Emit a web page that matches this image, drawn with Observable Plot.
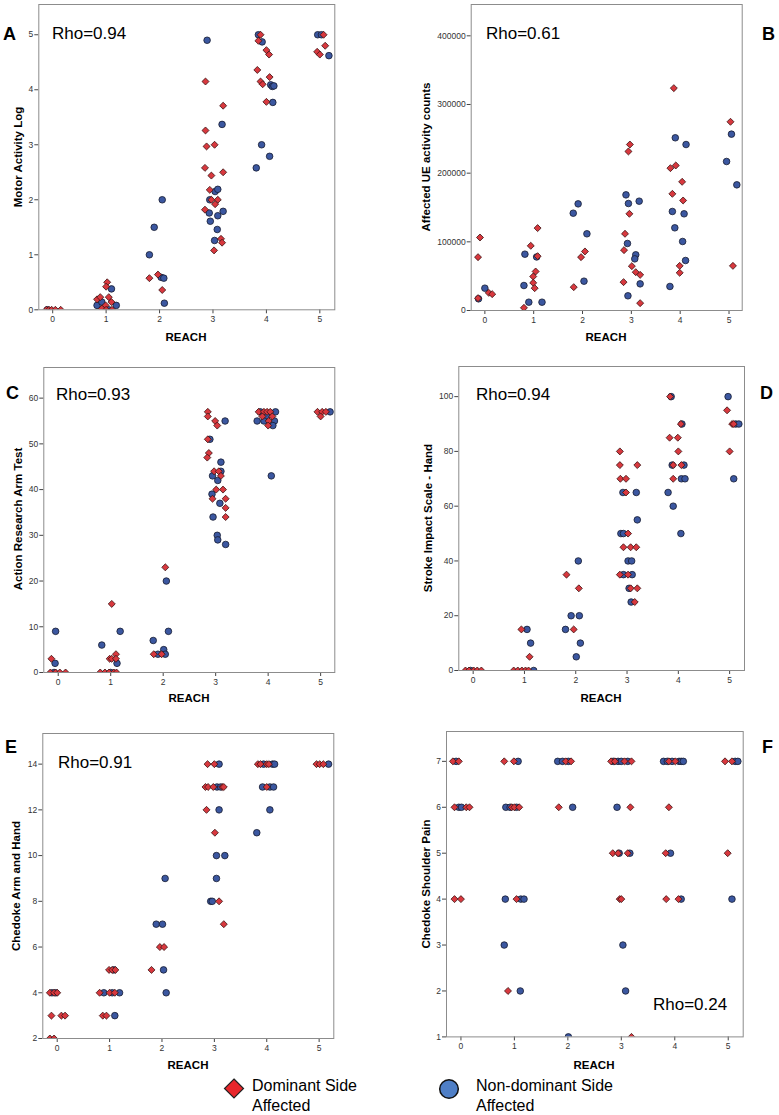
<!DOCTYPE html>
<html><head><meta charset="utf-8">
<script src="https://cdn.jsdelivr.net/npm/d3@7"></script>
<script src="https://cdn.jsdelivr.net/npm/@observablehq/plot@0.6"></script>
<style>
html,body{margin:0;padding:0;background:#fff;}
#page{position:relative;width:779px;height:1115px;overflow:hidden;font-family:"Liberation Sans",Arial,sans-serif;color:#000;}
.cell{position:absolute;}
.lbl{position:absolute;white-space:nowrap;}
.ylab{position:absolute;font-weight:bold;font-size:11.5px;white-space:nowrap;transform:translate(-50%,-50%) rotate(-90deg);}
.xlab{position:absolute;font-weight:bold;font-size:11.5px;transform:translate(-50%,-50%);}
.rho{position:absolute;font-size:17px;transform:translateY(-50%);}
.letter{position:absolute;font-weight:bold;font-size:18px;transform:translateY(-50%);}
.leg{position:absolute;font-size:16px;line-height:20px;}
</style></head>
<body><div id="page"></div>
<script>
// ---------- data: [REACH (jittered), score] ----------
const reachTicks = [0, 1, 2, 3, 4, 5];
const legendLabels = ["Dominant Side Affected", "Non-dominant Side Affected"];

const A_dominant = [[-0.12,0],[-0.07,0],[-0.02,0],[0.05,0],[0.15,0],
 [0.83,0.19],[0.89,0.23],[1.02,0.50],[1.0,0.42],[1.05,0.23],[1.1,0.14],[0.99,0.08],[0.92,0.02],[1.0,0],[1.11,0],
 [1.81,0.575],[1.97,0.64],[2.05,0.36],
 [2.86,4.15],[3.19,3.71],[2.86,3.26],[2.88,2.97],[3.03,3.0],[2.85,2.58],[2.97,2.44],[3.19,2.5],[2.97,2.0],[2.94,2.18],[3.09,2.0],[3.04,1.92],[2.85,1.82],[3.15,1.29],[3.17,1.22],[3.02,1.08],
 [3.89,5.0],[3.85,4.89],[4.0,4.72],[4.05,4.64],[3.83,4.36],[3.89,4.15],[3.93,4.10],[4.06,4.23],[4.0,3.78],
 [5.07,5.0],[5.10,4.80],[4.95,4.69],[5.0,4.64]];
const A_nondominant = [[-0.1,0],
 [0.83,0.08],[0.92,0.14],[1.1,0.38],[1.19,0.08],[1.05,0],
 [1.81,1.0],[1.90,1.5],[2.05,2.0],[2.03,0.59],[2.08,0.575],[2.09,0.12],
 [2.89,4.90],[3.17,3.37],[2.94,2.0],[3.04,2.15],[3.09,2.19],[2.93,1.76],[3.19,1.79],[3.09,1.71],[2.95,1.61],[3.08,1.46],[3.03,1.26],
 [3.85,5.0],[3.92,4.87],[4.08,4.09],[4.11,4.06],[4.14,4.07],[4.12,3.77],[3.91,3.0],[4.06,2.79],[3.81,2.58],
 [4.96,5.0],[5.03,5.0],[5.17,4.62]];

const B_dominant = [[-0.10,106300],[-0.14,77700],[0.08,25700],[0.15,23800],[-0.14,18000],
 [1.08,120000],[0.94,94200],[1.08,79100],[1.04,56800],[0.99,49500],[0.99,40300],[1.02,32500],[0.80,3900],
 [2.05,86000],[1.97,77700],[1.82,34000],
 [2.97,241700],[2.94,231600],[2.96,140800],[2.87,111700],[2.85,87900],[3.01,64600],[3.09,55800],[3.18,51900],[2.84,41300],[3.18,10700],
 [3.87,323800],[3.91,211200],[3.80,207300],[4.04,187400],[3.84,169900],[4.06,160200],[3.99,65000],[3.99,54900],
 [5.03,274800],[5.08,65000]];
const B_nondominant = [[0.0,32500],[-0.13,17000],
 [0.82,82000],[1.06,78000],[0.80,36400],[0.90,12100],[1.17,12100],
 [1.81,141700],[1.91,155300],[2.09,111700],[2.03,42700],
 [2.89,168400],[2.94,155800],[3.16,159200],[2.92,97600],[3.09,81100],[3.07,75200],[3.18,38800],[2.93,21400],
 [3.90,251500],[4.12,241700],[3.84,144200],[4.08,140800],[3.89,120400],[4.05,100500],[4.11,72800],[3.79,35000],
 [5.05,256800],[4.95,217000],[5.16,183000]];

const C_dominant = [[-0.13,3],[-0.15,0],[-0.05,0],[0.03,0],[0.14,0],
 [1.02,15],[1.1,4],[0.98,3],[1.02,3],[1.1,3],[0.8,0],[0.89,0],[0.97,0],[1.06,0],[1.11,0],
 [2.04,23],[1.82,4],[1.97,4],
 [2.85,57],[2.85,56],[2.99,55],[3.03,54],[2.85,51],[2.87,48],[2.84,47],[2.97,44],[3.06,44],[3.1,43],[3.01,40],[3.14,40],[2.94,38],[3.19,38],[3.19,36],[3.19,34],
 [3.82,57],[3.92,57],[3.98,57],[4.04,57],[3.89,56],[4.08,56],[4.01,55],[4.0,54],
 [4.94,57],[5.03,57],[5.10,57],[5.0,56]];
const C_nondominant = [[-0.05,9],[-0.06,2],[-0.08,0],
 [0.83,6],[1.18,9],[1.12,2],[1.0,0],
 [2.06,20],[1.81,7],[2.1,9],[2.01,5],[1.90,4],[2.04,4],
 [3.18,55],[2.89,51],[3.1,46],[3.1,44],[2.94,43],[3.04,42],[2.93,39],[3.08,37],[2.95,34],[3.03,30],[3.04,29],[3.19,28],
 [3.85,57],[4.14,57],[3.98,56],[3.79,55],[3.92,55],[4.12,55],[4.09,54],[4.06,43],
 [5.18,57]];

const D_dominant = [[-0.15,0],[-0.08,0],[0.01,0],[0.08,0],[0.16,0],
 [0.94,15],[1.1,5],[0.79,0],[0.87,0],[0.95,0],[1.02,0],[1.08,0],
 [1.82,35],[2.06,30],[1.96,15],
 [2.86,80],[2.86,75],[3.2,75],[2.87,70],[2.98,70],[2.98,65],[3.02,50],[2.93,45],[3.07,45],[3.18,45],[2.86,35],[3.02,35],[3.07,30],[3.2,30],[3.15,25],
 [3.84,100],[4.05,90],[3.83,85],[3.99,85],[4.0,80],[3.9,75],[4.06,75],[3.9,70],
 [4.95,95],[5.05,90],[5.08,90],[5.0,80]];
const D_nondominant = [[-0.05,0],
 [1.05,15],[1.12,10],[1.18,0],
 [2.05,40],[1.91,20],[2.07,20],[1.8,15],[2.09,10],[2.01,5],
 [2.92,65],[3.18,65],[3.2,55],[2.88,50],[2.93,50],[3.02,40],[3.09,40],[2.93,35],[3.1,35],[3.04,30],[3.08,25],
 [3.86,100],[4.07,90],[3.88,75],[4.11,75],[4.06,70],[4.13,70],[3.8,65],[3.9,60],[4.05,50],
 [4.97,100],[5.12,90],[5.18,90],[5.08,70]];

const E_dominant = [[-0.14,4],[-0.06,4],[0.0,4],[-0.11,3],[0.08,3],[0.15,3],[-0.14,2],[-0.06,2],
 [0.99,5],[1.05,5],[1.11,5],[0.81,4],[1.0,4],[1.1,4],[0.87,3],[0.94,3],
 [1.96,6],[2.04,6],[1.8,5],
 [2.87,14],[3.0,14],[2.83,13],[2.88,13],[2.98,13],[3.15,13],[3.18,13],[2.85,12],[3.01,11],[3.09,8],[3.18,7],
 [3.83,14],[3.88,14],[4.0,14],[4.04,14],[4.0,13],
 [4.95,14],[5.01,14],[5.08,14]];
const E_nondominant = [[-0.1,4],[-0.03,4],
 [1.08,5],[0.89,4],[1.05,4],[1.19,4],[1.1,3],
 [2.06,9],[1.89,7],[2.01,7],[2.03,5],[2.08,4],
 [3.09,14],[3.05,13],[3.12,13],[3.09,12],[3.04,10],[3.2,10],[3.04,9],[2.93,8],[2.96,8],
 [3.94,14],[4.11,14],[4.15,14],[3.92,13],[4.06,13],[4.13,13],[4.06,12],[3.81,11],
 [5.18,14]];

const F_dominant = [[-0.15,7],[-0.04,7],[-0.12,6],[0.1,6],[0.16,6],[-0.12,4],[0.0,4],
 [0.81,7],[0.99,7],[0.95,6],[1.0,6],[1.09,6],[1.04,4],[0.88,2],
 [1.96,7],[2.06,7],[1.83,6],
 [2.81,7],[2.88,7],[3.06,7],[3.19,7],[3.17,6],[2.84,5],[2.94,5],[3.12,5],[2.97,4],[3.0,4],[3.19,1],
 [3.89,7],[4.01,7],[3.89,6],[3.83,5],[3.84,4],[4.07,4],
 [4.94,7],[5.07,7],[4.99,5]];
const F_nondominant = [[-0.09,7],[-0.04,6],[0.01,6],
 [1.07,7],[0.84,6],[0.92,6],[1.04,6],[0.83,4],[1.12,4],[1.18,4],[0.81,3],[1.11,2],
 [1.81,7],[1.9,7],[2.01,7],[2.09,6],[2.01,1],
 [2.85,7],[2.94,7],[3.0,7],[3.12,7],[2.92,6],[2.96,5],[3.16,5],[3.03,3],[3.08,2],
 [3.79,7],[3.86,7],[3.95,7],[4.08,7],[4.12,7],[4.16,7],[3.92,5],[4.12,4],
 [5.13,7],[5.18,7],[5.07,4]];

const yTicksA = [0,1,2,3,4,5];
const yTicksB = [0,100000,200000,300000,400000];
const yTicksC = [0,10,20,30,40,50,60];
const yTicksD = [0,20,40,60,80,100];
const yTicksE = [2,4,6,8,10,12,14];
const yTicksF = [1,2,3,4,5,6,7];

const yLabels = ["Motor Activity Log","Affected UE activity counts","Action Research Arm Test","Stroke Impact Scale - Hand","Chedoke Arm and Hand","Chedoke Shoulder Pain"];
const rhoLabels = ["Rho=0.94","Rho=0.61","Rho=0.93","Rho=0.94","Rho=0.91","Rho=0.24"];
const panelLetters = ["A","B","C","D","E","F"];

// ---------- layout ----------
const RED = "#d8383e", BLUE = "#3b57a0";
const page = document.getElementById("page");
const panels = [
 {left:0,   frame:[38.3,4,334.3,309.3],    xdom:[-0.26,5.28], ydom:[0,5.55],   ticks:yTicksA, dom:A_dominant, non:A_nondominant,
  ylab:[18,157], rho:[52,34], letter:[3,34], reach:[186,337]},
 {left:390, frame:[470.7,4,741.7,310],     xdom:[-0.28,5.27], ydom:[0,445600], ticks:yTicksB, dom:B_dominant, non:B_nondominant,
  ylab:[426,157], rho:[486,34], letter:[762,34], reach:[606,337]},
 {left:0,   frame:[43.3,366.7,334.3,671.7],xdom:[-0.275,5.27],ydom:[0,66.7],  ticks:yTicksC, dom:C_dominant, non:C_nondominant,
  ylab:[18,519], rho:[56,395], letter:[6,393], reach:[189,698]},
 {left:390, frame:[458.3,366,744,670],     xdom:[-0.28,5.29], ydom:[0,111],   ticks:yTicksD, dom:D_dominant, non:D_nondominant,
  ylab:[428,518], rho:[476,395], letter:[760,393], reach:[601,698]},
 {left:0,   frame:[42.3,733.3,333.3,1038.3],xdom:[-0.275,5.28],ydom:[2,15.34],ticks:yTicksE, dom:E_dominant, non:E_nondominant,
  ylab:[16,886], rho:[58,763], letter:[5,747], reach:[188,1065]},
 {left:390, frame:[446,731.3,742.7,1036.7],xdom:[-0.27,5.28], ydom:[1,7.65],  ticks:yTicksF, dom:F_dominant, non:F_nondominant,
  ylab:[426,884], rho:[653,1005], letter:[762,747], reach:[594,1065]}
];

panels.forEach((p, i) => {
  const [x0,y0,x1,y1] = p.frame;
  const mt = 4, mb = 22;
  const H = (y1 - y0) + mt + mb;
  const chart = Plot.plot({
    width: 389, height: H,
    marginLeft: x0 - p.left, marginRight: p.left + 389 - x1, marginTop: mt, marginBottom: mb,
    x: {domain: p.xdom},
    y: {domain: p.ydom},
    style: {fontFamily: "'Liberation Sans', Arial, sans-serif", fontSize: "8.5px", color: "#333", overflow: "visible", background: "transparent"},
    marks: [
      Plot.axisX(reachTicks, {tickSize: 4, tickPadding: 2, label: null, stroke: "#444", fill: "#333", fontSize: 8.5}),
      Plot.axisY(p.ticks, {tickSize: 4, tickPadding: 1.5, label: null, stroke: "#444", fill: "#333", fontSize: 8.5, tickFormat: d3.format("d")}),
      Plot.dot(p.non, {x: d => d[0], y: d => d[1], r: 3.3, fill: BLUE, stroke: "#161c30", strokeWidth: 0.8, clip: true}),
      Plot.dot(p.dom, {x: d => d[0], y: d => d[1], r: 3.15, symbol: "diamond2", fill: RED, stroke: "#3a1212", strokeWidth: 0.8, clip: true}),
      Plot.frame({stroke: "#8c8c8c", strokeWidth: 1})
    ]
  });
  const cell = document.createElement("div");
  cell.className = "cell";
  cell.style.left = p.left + "px";
  cell.style.top = (y0 - mt) + "px";
  cell.appendChild(chart);
  page.appendChild(cell);

  const add = (cls, txt, x, y) => {
    const d = document.createElement("div");
    d.className = cls; d.textContent = txt;
    d.style.left = x + "px"; d.style.top = y + "px";
    page.appendChild(d);
  };
  add("ylab", yLabels[i], p.ylab[0], p.ylab[1]);
  add("xlab", "REACH", p.reach[0], p.reach[1]);
  add("rho", rhoLabels[i], p.rho[0], p.rho[1]);
  add("letter", panelLetters[i], p.letter[0], p.letter[1]);
});

// ---------- legend ----------
const legend = document.createElement("div");
legend.innerHTML = `
<svg style="position:absolute;left:0;top:1070px" width="779" height="45">
  <path d="M234,9 L243.5,18.5 L234,28 L224.5,18.5 Z" fill="#e8262b" stroke="#222" stroke-width="1.2"/>
  <circle cx="449" cy="19" r="9.3" fill="#4f7fc6" stroke="#111" stroke-width="1.5"/>
</svg>
<div class="leg" style="left:252px;top:1076px">Dominant Side<br>Affected</div>
<div class="leg" style="left:476px;top:1076px">Non-dominant Side<br>Affected</div>`;
page.appendChild(legend);
</script>
</body></html>
